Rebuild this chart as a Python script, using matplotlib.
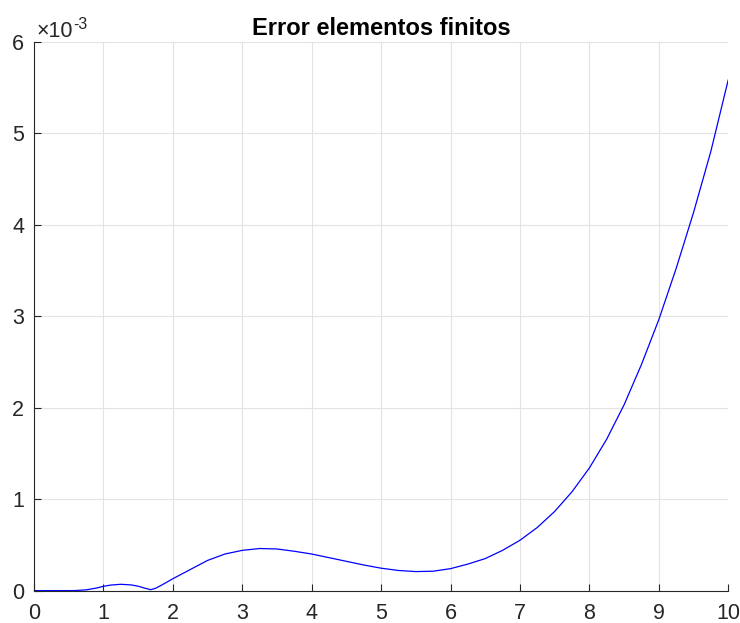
import matplotlib.pyplot as plt
import numpy as np

plt.rcParams['font.family'] = ['Liberation Sans', 'DejaVu Sans']

# error, in units of 1e-3
x_vals = [0, 0.25, 0.5, 0.6, 0.75, 0.9, 1.0, 1.1, 1.25, 1.4, 1.5, 1.6, 1.68,
          1.75, 1.85, 2.0, 2.25, 2.5, 2.75, 3.0, 3.25, 3.5, 3.75, 4.0, 4.25,
          4.5, 4.75, 5.0, 5.25, 5.5, 5.75, 6.0, 6.25, 6.5, 6.75, 7.0, 7.25,
          7.5, 7.75, 8.0, 8.25, 8.5, 8.75, 9.0, 9.25, 9.5, 9.75, 10.0]
err_vals = [0, 0, 0, 0.001, 0.008, 0.028, 0.047, 0.060, 0.069, 0.062, 0.048,
            0.026, 0.010, 0.025, 0.065, 0.13, 0.23, 0.33, 0.40, 0.44, 0.46,
            0.455, 0.43, 0.40, 0.36, 0.32, 0.28, 0.245, 0.22, 0.208, 0.212,
            0.24, 0.29, 0.35, 0.44, 0.55, 0.69, 0.865, 1.08, 1.34, 1.655,
            2.03, 2.47, 2.96, 3.52, 4.13, 4.80, 5.58]
x_ticks = [0, 1, 2, 3, 4, 5, 6, 7, 8, 9, 10]
y_ticks = [0, 1, 2, 3, 4, 5, 6]

fig = plt.figure(figsize=(7.4, 6.23), dpi=100)
ax = fig.add_axes([0.046, 0.052, 0.938, 0.881])

ax.plot(x_vals, err_vals, color='#0000ff', linewidth=0.9)

ax.set_xlim(0, 10)
ax.set_ylim(0, 6)
ax.set_xticks(x_ticks)
ax.set_yticks(y_ticks)
ax.set_xticklabels([str(t) for t in x_ticks])
ax.set_yticklabels([str(t) for t in y_ticks])

ax.grid(True, color='#e3e3e3', linewidth=0.8)
ax.set_axisbelow(True)
for side in ['top', 'right']:
    ax.spines[side].set_visible(False)
for side in ['left', 'bottom']:
    ax.spines[side].set_color('#262626')
    ax.spines[side].set_linewidth(0.8)
ax.tick_params(direction='in', length=5, width=0.8, colors='#262626',
               labelsize=15.5, labelcolor='#262626')
ax.tick_params(axis='x', pad=9)
ax.tick_params(axis='y', pad=7)

ax.set_title('Error elementos finitos', fontsize=17, fontweight='bold', pad=5)

# exponent label like MATLAB
ax.text(0.003, 1.008, '\u00d710', transform=ax.transAxes, fontsize=15.5,
        color='#262626', ha='left', va='baseline')
ax.text(0.056, 1.023, '-3', transform=ax.transAxes, fontsize=11.5,
        color='#262626', ha='left', va='baseline')

fig.savefig('out.png', dpi=100)
